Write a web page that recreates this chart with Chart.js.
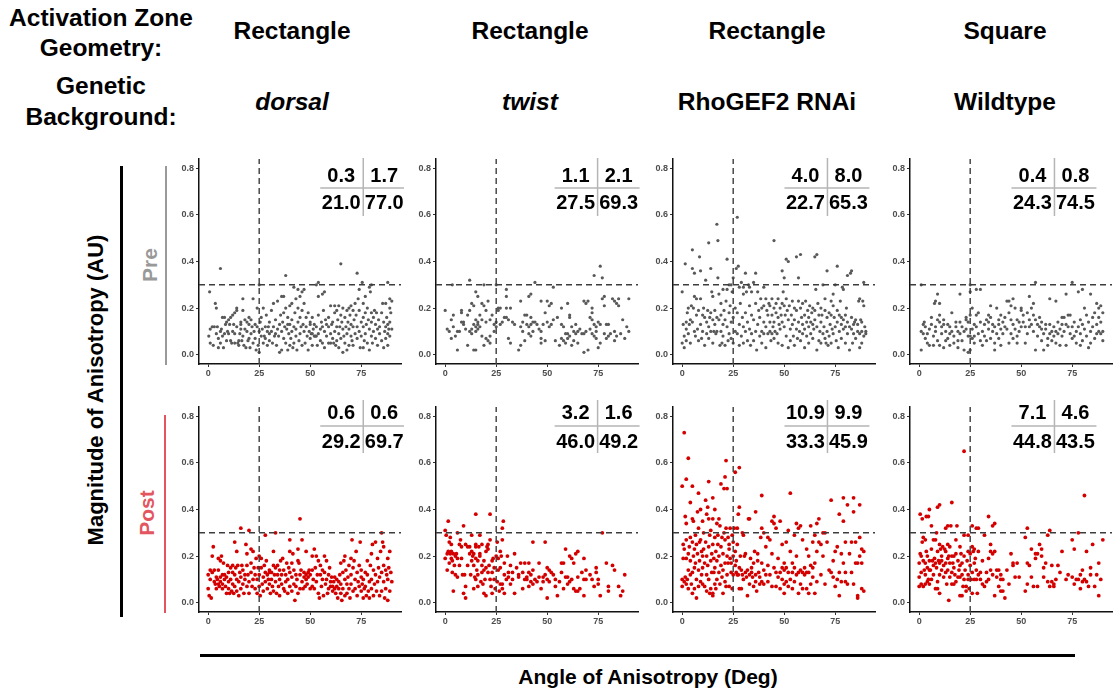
<!DOCTYPE html>
<html lang="en">
<head>
<meta charset="UTF-8">
<title>Anisotropy pre / post</title>
<script src="https://cdn.jsdelivr.net/npm/chart.js"></script>
<style>
body { margin:0; background:#fff; font-family:"Liberation Sans", Arial, sans-serif; }
#page { position:relative; width:1113px; height:692px; overflow:hidden; }
.lbl { position:absolute; font-weight:bold; color:#000; white-space:nowrap; transform:translate(-50%,-50%); }
.rot { transform:translate(-50%,-50%) rotate(-90deg); }
.bar { position:absolute; }
.panel { position:absolute; }
</style>
</head>
<body>
<div id="page"></div>

<script>
// column headers
const geometry   = ['Rectangle', 'Rectangle', 'Rectangle', 'Square'];
const background = ['dorsal', 'twist', 'RhoGEF2 RNAi', 'Wildtype'];
const italicBg   = [true, true, false, false];

// thresholds (dashed lines)
const angleCut = 25;
const magCut = 0.3;

// quadrant percentages: [top-left, top-right, bottom-left, bottom-right]
const preTables  = [[0.3,1.7,21.0,77.0],[1.1,2.1,27.5,69.3],[4.0,8.0,22.7,65.3],[0.4,0.8,24.3,74.5]];
const postTables = [[0.6,0.6,29.2,69.7],[3.2,1.6,46.0,49.2],[10.9,9.9,33.3,45.9],[7.1,4.6,44.8,43.5]];

// points [angle, magnitude]
const preDorsal = [
[0.7,.27],[0.3,.08],[1,.11],[1,.05],[2,.12],[2.5,.04],[3,.12],[3.5,.22],[4,.20],[4,.09],[4.5,.12],[5,.03],[5,.07],[6,.37],[6,.1],[6,.05],[6.5,.11],[7,.08],[7,.16],[7.5,.03],[8,.16],[8,.09],[8.5,.13],[9,.06],[9,.14],[9.5,.1],[10,.09],
[10,.15],[10.5,.13],[11,.16],[11,.06],[11.5,.05],[12,.17],[12,.1],[12.5,.13],[13,.18],[13,.05],[13,.09],[14,.19],[14,.2],[14,.12],[14.5,.05],[15,.04],[15,.06],[15.5,.09],[16,.13],[16,.14],[16,.11],[16.5,.06],[17,.24],[17,.19],[17,.08],[17.5,.04],[18,.11],[18,.15],[18.5,.03],[19,.14],[19,.1],[19.5,.06],[20,.16],[20,.13],[20,.07],[20.5,.03],
[21,.09],[21,.15],[21.5,.12],[22,.24],[22,.05],[22.5,.1],[23,.13],[23,.07],[23.5,.02],[24,.2],[24,.12],[24.5,.04],[25,.3],[25,.1],[25,.01],[25.5,.14],[26,.08],[26,.16],[26.5,.11],[27,.2],[27,.05],[27.5,.08],[28,.12],[28,.07],[28.5,.17],[29,.04],[29,.1],[29.5,.12],[30,.09],[30,.14],[30,.06],
[31,.1],[31,.19],[31.5,.05],[32,.12],[32,.22],[32.5,.08],[33,.09],[33,.15],[33.5,.04],[34,.23],[34,.11],[34.5,.08],[35,.13],[35,.01],[35.5,.17],[36,.25],[36,.1],[36,.02],[36.5,.14],[37,.25],[37,.18],[37,.07],[37.5,.12],[38,.34],[38,.2],[38,.05],[38.5,.11],[39,.16],[39,.13],[39,.02],[39.5,.09],[40,.21],[40,.13],[40,.04],
[40.5,.07],[41,.22],[41,.15],[41,.1],[41.5,.03],[42,.29],[42,.12],[42,.05],[42.5,.18],[43,.24],[43,.11],[43,.08],[43.5,.02],[44,.28],[44,.2],[44,.14],[44.5,.06],[45,.25],[45,.16],[45,.09],[45.5,.12],[46,.27],[46,.19],[46,.04],[46.5,.13],[47,.28],[47,.22],[47,.1],[47.5,.05],[48,.16],[48,.12],[48.5,.08],[49,.18],[49,.02],[49.5,.1],[50,.07],[50,.14],[50,.13],
[50.5,.09],[51,.09],[51,.16],[51,.04],[51.5,.11],[52,.08],[52,.13],[52.5,.08],[53,.3],[53,.12],[53,.08],[53.5,.04],[54,.31],[54,.25],[54,.17],[54,.09],[55,.11],[55,.06],[55.5,.14],[56,.26],[56,.12],[56,.05],[56.5,.19],[57,.27],[57,.1],[57,.03],[57.5,.15],[58,.08],[58,.13],[59,.05],[59,.12],[59,.16],[60,.21],[60,.09],[60,.05],
[60.5,.13],[61,.07],[61,.14],[61.5,.05],[62,.21],[62,.1],[62,.18],[62.5,.04],[63,.19],[63,.12],[63,.06],[63.5,.15],[64,.21],[64,.09],[64,.03],[64.5,.12],[65,.39],[65,.17],[65,.07],[65.5,.14],[66,.2],[66,.11],[66,.01],[66.5,.08],[67,.16],[67,.05],[67.5,.12],[68,.19],[68,.09],[68,.02],[68.5,.14],[69,.2],[69,.11],[69,.04],[69.5,.17],[70,.21],[70,.08],[70,.13],
[70.5,.06],[71,.19],[71,.12],[71,.04],[71.5,.15],[72,.22],[72,.09],[72.5,.17],[73,.35],[73,.12],[73,.07],[73.5,.24],[74,.28],[74,.19],[74,.1],[74.5,.03],[75,.14],[75,.08],[75.5,.31],[76,.22],[76,.16],[76,.12],[76,.03],[76.5,.06],[77,.25],[77,.18],[77,.09],[77.5,.13],[78,.2],[78,.05],[78.5,.15],[79,.29],[79,.11],[79,.02],[79.5,.27],[80,.3],[80,.18],[80,.08],[80,.14],
[80.5,.05],[81,.16],[81,.1],[81.5,.19],[82,.13],[82,.07],[82.5,.18],[83,.11],[83,.04],[83.5,.15],[84,.09],[84,.12],[85,.18],[85,.06],[85.5,.22],[86,.14],[86,.03],[86.5,.1],[87,.22],[87,.12],[87,.07],[87.5,.16],[88,.31],[88,.13],[88,.09],[88,.04],[88.5,.11],[89,.24],[89,.2],[89,.14],[89,.08],[89.5,.18],[90,.23],[90,.11]
];
const preTwist = [
[0,.19],[1,.11],[2,.1],[3,.15],[3,.07],[3.5,.3],[4,.17],[4,.12],[5,.08],[6,.1],[6,.02],[7,.1],[8,.18],[8,.19],[8,.14],[9,.13],[9,.14],[10,.11],[11,.04],[11,.17],
[12,.32],[12,.1],[12,.19],[13,.11],[13,.09],[13,.22],[14,.21],[14,.13],[14,.02],[15,.27],[15,.15],[15,.12],[15,.02],[15,.1],[16,.25],[16,.14],[16,.13],[16,.11],[17,.12],[17,.17],[18,.22],[18,.08],[18,.15],[19,.3],[19,.04],[19,.21],[20,.07],[20,.14],[20,.19],[21,.23],[21,.06],[22,.08],[22,.15],[22,.05],[23,.17],[24,.13],[24,.1],
[25,.3],[25,.14],[25,.12],[26,.2],[26,.19],[27,.13],[27,.2],[28,.14],[29,.16],[30,.25],[30,.28],[30,.2],[30,.16],[31,.15],[31,.07],[32,.2],[32,.05],[33,.14],[34,.13],
[36,.02],[37,.04],[37,.23],[37,.12],[38,.1],[38,.14],[39,.17],[39,.06],[40,.17],[40,.13],[41,.25],[41,.09],[41,.12],[42,.26],[42,.16],[42,.13],[42,.08],[43,.14],[43,.1],[44,.31],[44,.14],[45,.13],[46,.11],[47,.05],[47,.07],[47,.23],[47,.1],[48,.13],[49,.18],[49,.06],[50,.23],[50,.14],[51,.21],[51,.12],[52,.22],[52,.13],
[53,.29],[53,.15],[54,.06],[55,.16],[56,.04],[57,.2],[57,.13],[57,.07],[58,.12],[58,.06],[59,.09],[59,.05],[60,.22],[60,.09],[60,.07],[61,.16],[61,.17],[61,.08],[62,.12],[62,.04],[63,.06],[63,.1],[64,.13],[64,.09],[65,.1],[65,.05],[66,.11],[67,.09],
[68,.01],[68,.23],[68,.09],[69,.22],[69,.1],[70,.23],[70,.02],[71,.16],[71,.11],[72,.2],[72,.18],[72,.15],[72,.09],[73,.34],[73,.13],[73,.08],[74,.12],[74,.1],[74,.07],[75,.14],[75,.03],[76,.38],[76,.05],[76,.13],[77,.33],[77,.24],[78,.25],[78,.09],[78,.21],
[79,.13],[79,.07],[80,.13],[80,.08],[81,.09],[82,.24],[83,.23],[83,.1],[83,.06],[84,.22],[84,.08],[85,.21],[85,.24],[86,.09],[87,.15],[88,.07],[89,.12],[90,.1],[90,.24]
];
const preRho = [
[0,.27],[0,.05],[0.5,.13],[1,.08],[1,.03],[1.5,.39],[2,.14],[2,.11],[2,.06],[2.5,.18],[3,.09],[3,.2],[3.5,.13],[4,.05],[4,.15],[4.5,.21],[5,.14],
[5,.37],[5,.45],[5.5,.2],[6,.35],[6,.25],[6,.1],[6.5,.08],[7,.24],[7,.17],[7.5,.11],[8,.06],[8,.19],[8.5,.42],[9,.13],[9,.24],[9,.36],[9.5,.07],[10,.17],[10,.1],
[10.5,.2],[11,.16],[11,.04],[11.5,.32],[12,.14],[12,.09],[12.5,.19],[13,.48],[13,.12],[13,.07],[13.5,.16],[14,.37],[14,.1],[14,.18],[14.5,.27],[15,.15],[15,.05],[15,.25],
[15.5,.1],[16,.19],[16,.13],[16.5,.09],[17,.56],[17,.16],[17,.1],[17.5,.33],[17.5,.49],[18,.15],[18,.26],[18.5,.04],[19,.22],[19,.17],[19,.1],[19.5,.05],[20,.13],[20,.28],[20,.08],
[20.5,.19],[21,.15],[21,.04],[21.5,.23],[22,.41],[22,.28],[22,.12],[22.5,.06],[23,.18],[23,.3],[23,.09],[23.5,.21],[24,.3],[24,.14],[24,.07],[24.5,.27],[25,.16],[25,.33],[25,.05],
[26,.1],[26,.2],[26.5,.37],[27,.59],[27,.18],[27,.09],[27.5,.38],[28,.29],[28,.13],[28,.04],[28.5,.22],[29,.31],[29,.08],[29.5,.16],[30,.29],[30,.12],[30,.26],[30,.05],
[31,.35],[31,.18],[31,.1],[31.5,.27],[32,.14],[32,.06],[32.5,.3],[33,.21],[33,.29],[33,.11],[33.5,.04],[34,.17],[34,.27],[34,.09],[35,.15],[35,.31],[35,.06],
[36,.35],[36,.22],[36,.1],[36.5,.02],[37,.13],[37,.27],[37.5,.19],[38,.08],[38,.16],[38.5,.24],[39,.1],[39,.2],[39,.05],[40,.14],[40,.29],[40,.21],[40,.09],
[41,.24],[41,.12],[41,.03],[41.5,.19],[42,.17],[42,.09],[42.5,.22],[43,.14],[43,.21],[43,.1],[43.5,.06],[44,.24],[44,.17],[44,.09],[44.5,.12],[45,.49],[45,.2],[45,.14],[45,.07],
[45.5,.1],[46,.18],[46,.22],[46.5,.09],[47,.16],[47,.24],[47,.05],[47.5,.13],[48,.2],[48,.11],[48.5,.17],[49,.36],[49,.22],[49,.14],[49,.04],[49.5,.27],[50,.33],[50,.21],[50,.12],
[50.5,.17],[51,.41],[51,.24],[51,.08],[51.5,.19],[52,.4],[52,.15],[52,.03],[52.5,.21],[53,.11],[53,.06],[53.5,.17],[54,.13],[54,.23],[54.5,.08],[55,.2],[55,.15],[55,.04],
[56,.42],[56,.11],[56,.19],[56.5,.07],[57,.33],[57,.23],[57,.14],[57.5,.1],[58,.43],[58,.2],[58,.06],[58.5,.16],[59,.13],[59,.22],[59,.09],[60,.17],[60,.11],[60,.03],
[60.5,.23],[61,.14],[61,.08],[61.5,.19],[62,.12],[62,.16],[62,.05],[62.5,.21],[63,.14],[63,.09],[63.5,.18],[64,.13],[64,.2],[64,.07],[64.5,.11],[65,.42],[65,.15],[65,.19],
[65.5,.28],[66,.43],[66,.12],[66,.02],[66.5,.22],[67,.17],[67,.06],[67.5,.1],[68,.2],[68,.14],[68,.05],[68.5,.17],[69,.3],[69,.09],[69.5,.12],[70,.19],[70,.07],[70,.24],
[70.5,.05],[71,.36],[71,.16],[71,.1],[71.5,.04],[72,.18],[72,.08],[72.5,.13],[73,.23],[73,.17],[73,.05],[73.5,.11],[74,.26],[74,.21],[74,.09],[74.5,.16],[75,.3],[75,.12],
[75.5,.06],[76,.38],[76,.19],[76,.14],[76.5,.03],[77,.17],[77,.1],[77.5,.23],[78,.13],[78,.16],[78,.07],[78.5,.29],[79,.28],[79,.15],[79,.11],[80,.17],[80,.05],[80,.12],
[80.5,.2],[81,.34],[81,.14],[81,.09],[82,.12],[82,.02],[82.5,.35],[83,.36],[83,.16],[83,.11],[83.5,.05],[84,.13],[84,.09],[84.5,.14],[85,.15],[85,.07],
[86,.1],[86,.13],[86.5,.23],[87,.24],[87,.09],[87,.03],[87.5,.15],[88,.14],[88,.1],[88,.05],[88.5,.23],[89,.31],[89,.21],[89,.08],[89.5,.12],[90,.09],[90,.1]
];
const preWildtype = [
[1,.3],[1,.1],[1,.02],[2,.09],[2,.13],[2.5,.14],[3,.07],[3,.12],[4,.05],[4,.09],[5,.11],[5,.04],[6,.13],[6,.16],[7,.08],[7,.04],[7.5,.22],[8,.23],[8,.12],[8,.1],[9,.26],[9,.15],[9,.06],[10,.22],[10,.17],[10,.14],[10,.04],
[11,.12],[11,.09],[12,.15],[12,.13],[12,.03],[13,.1],[13,.06],[14,.13],[14,.07],[15,.12],[15,.09],[15,.04],[16,.18],[16,.1],[17,.08],[17,.05],[18,.12],[18,.14],[19,.1],[19,.06],[19,.03],[20,.26],[20,.09],[20,.14],
[21,.12],[21,.06],[22,.1],[22,.02],[23,.15],[23,.16],[23,.11],[24,.14],[24,.08],[24,.01],[25,.3],[25,.27],[25,.17],[25,.08],[25,.02],[26,.2],[26,.07],[26,.11],[27,.13],[27,.05],[27,.08],[28,.28],[28,.17],[28,.12],[29,.18],[29,.09],[30,.28],[30,.14],[30,.06],
[31,.1],[31,.04],[32,.13],[32,.08],[33,.15],[33,.06],[34,.17],[34,.11],[34,.14],[35,.21],[35,.16],[35,.07],[36,.13],[36,.1],[37,.02],[37,.05],[37,.12],[38,.2],[38,.09],[39,.13],[39,.15],[39,.07],[40,.17],[40,.11],[40,.04],
[41,.14],[41,.09],[42,.12],[42,.16],[43,.23],[43,.11],[44,.23],[44,.18],[44,.05],[45,.21],[45,.15],[45,.09],[46,.24],[46,.13],[46,.07],[47,.2],[47,.11],[48,.15],[48,.08],[48,.05],[49,.14],[49,.1],[50,.2],[50,.12],[50,.19],
[51,.17],[51,.14],[52,.12],[52,.05],[53,.18],[53,.09],[54,.25],[54,.15],[54,.12],[55,.2],[55,.13],[56,.22],[56,.17],[56,.1],[57,.31],[57,.15],[57,.02],[58,.13],[58,.08],[59,.12],[59,.16],[60,.14],[60,.06],[60,.11],
[61,.09],[61,.02],[62,.13],[62,.11],[63,.07],[63,.04],[64,.09],[64,.13],[64,.24],[65,.1],[65,.06],[66,.08],[66,.12],[67,.23],[67,.1],[67,.05],[68,.14],[68,.09],[69,.11],[69,.04],[70,.16],[70,.13],[70,.08],
[71,.16],[71,.1],[72,.26],[72,.13],[72,.04],[73,.17],[73,.12],[74,.09],[74,.17],[75,.31],[75,.12],[75,.07],[76,.14],[76,.08],[77,.1],[77,.05],[78,.27],[78,.12],[79,.15],[79,.09],[79,.04],[80,.28],[80,.13],[80,.06],
[81,.2],[81,.11],[82,.17],[82,.08],[83,.14],[83,.03],[84,.26],[84,.1],[84,.05],[85,.16],[85,.12],[86,.18],[86,.07],[87,.22],[87,.13],[87,.09],[88,.2],[88,.1],[88,.16],[89,.09],[89,.14],[89,.21],[90,.1],[90,.06],[90,.18]
];
const postDorsal = [
[0,.12],[0,.06],[0.5,.03],[1,.14],[1,.1],[1.5,.02],[2,.2],[2,.13],[2.5,.24],[3,.09],[3,.14],[3.5,.08],[4,.11],[4,.06],[4.5,.1],[5,.08],[5,.19],[5,.14],
[5.5,.07],[6,.18],[6,.11],[6,.09],[6.5,.2],[7,.12],[7,.08],[7,.06],[7.5,.17],[8,.1],[8,.12],[8.5,.07],[9,.04],[9,.11],[9.5,.16],[10,.13],[10,.09],[10,.06],
[10.5,.04],[11,.15],[11,.1],[11.5,.05],[12,.13],[12,.16],[12,.08],[12.5,.04],[13,.26],[13,.12],[13,.07],[13.5,.15],[14,.22],[14,.1],[14,.05],[14.5,.16],[15,.09],[15,.03],
[15.5,.13],[16,.32],[16,.11],[16,.06],[16.5,.16],[17,.08],[17,.14],[17.5,.04],[18,.1],[18,.12],[18.5,.25],[19,.16],[19,.07],[19,.21],[19.5,.12],[20,.31],[20,.09],[20,.04],
[21,.23],[21,.17],[21,.13],[21.5,.07],[22,.22],[22,.1],[22.5,.15],[23,.06],[23,.12],[23.5,.19],[24,.1],[24,.04],[24.5,.15],[25,.2],[25,.12],[25,.07],
[25.5,.03],[26,.19],[26,.15],[26.5,.08],[27,.11],[27,.05],[27.5,.16],[28,.29],[28,.13],[28,.09],[28.5,.18],[29,.12],[29,.06],[29.5,.1],[30,.14],[30,.08],[30,.13],
[30.5,.04],[31,.13],[31,.1],[31.5,.07],[32,.22],[32,.16],[32,.05],[32.5,.12],[33,.3],[33,.15],[33,.09],[33.5,.04],[34,.12],[34,.16],[34.5,.07],[35,.1],[35,.14],[35,.03],
[35.5,.18],[36,.08],[36,.12],[36.5,.19],[37,.06],[37,.14],[37.5,.05],[38,.09],[38,.12],[38.5,.17],[39,.04],[39,.1],[39.5,.15],[40,.27],[40,.22],[40,.07],[40,.13],
[41,.17],[41,.11],[41,.05],[41.5,.21],[42,.14],[42,.08],[42.5,.01],[43,.12],[43,.07],[43.5,.1],[44,.23],[44,.18],[44,.04],[44.5,.17],[45,.36],[45,.12],[45,.06],
[45.5,.14],[46,.27],[46,.09],[46.5,.06],[47,.13],[47,.11],[47.5,.07],[48,.22],[48,.12],[48,.1],[48.5,.08],[49,.13],[49,.11],[49.5,.14],[50,.06],[50,.12],
[51,.2],[51,.14],[51,.07],[51.5,.1],[52,.23],[52,.06],[52.5,.15],[53,.2],[53,.09],[53.5,.12],[54,.18],[54,.04],[54.5,.02],[55,.12],[55,.16],
[55.5,.07],[56,.14],[56,.1],[56.5,.03],[57,.2],[57,.13],[57.5,.08],[58,.18],[58,.1],[58.5,.04],[59,.06],[59,.12],[59.5,.15],[60,.09],[60,.07],
[60.5,.11],[61,.07],[61,.05],[61.5,.09],[62,.06],[62,.11],[62.5,.04],[63,.07],[63,.1],[63.5,.02],[64,.09],[64,.06],[64.5,.12],[65,.04],[65,.17],[65,.08],
[65.5,.01],[66,.13],[66,.06],[66.5,.18],[67,.2],[67,.1],[67,.03],[67.5,.14],[68,.04],[68,.08],[68.5,.11],[69,.16],[69,.06],[69.5,.02],[70,.12],[70,.19],[70,.08],
[70.5,.27],[71,.15],[71,.05],[71.5,.18],[72,.1],[72,.06],[72.5,.22],[73,.13],[73,.03],[73.5,.09],[74,.16],[74,.07],[74.5,.26],[75,.11],[75,.05],[75,.14],
[75.5,.08],[76,.1],[76,.02],[76.5,.06],[77,.13],[77,.07],[77.5,.03],[78,.12],[78,.18],[78.5,.05],[79,.09],[79,.02],[79.5,.16],[80,.21],[80,.1],[80,.06],
[80.5,.25],[81,.14],[81,.03],[81.5,.08],[82,.26],[82,.12],[82.5,.05],[83,.19],[83,.09],[83.5,.15],[84,.03],[84,.11],[84.5,.22],[85,.3],[85,.13],[85,.05],
[85.5,.26],[86,.24],[86,.16],[86,.09],[86.5,.02],[87,.14],[87,.06],[87.5,.12],[88,.01],[88,.19],[88,.1],[88.5,.15],[89,.05],[89,.22],[89.5,.13],[90,.09]
];
const postTwist = [
[0,.31],[0,.19],[0.5,.29],[1,.14],[1,.21],[1.5,.35],[1.5,.22],[2,.17],[2,.26],[2.5,.28],[2.5,.21],[3,.19],[3,.25],[3,.22],[3.5,.13],[3.5,.18],[4,.21],[4,.05],[4.5,.16],[5,.12],[5,.2],
[5.5,.21],[6,.3],[6,.19],[6,.11],[7,.25],[7,.16],[7.5,.27],[8,.19],[8,.24],[8.5,.12],[9,.33],[9,.04],[9.5,.12],[10,.02],[10,.25],[10,.07],
[11,.24],[11,.16],[12,.24],[12,.21],[12.5,.12],[13,.29],[13,.22],[13,.18],[13.5,.2],[14,.16],[14,.21],[14,.06],[14.5,.11],[15,.24],[15,.19],[15,.38],[15,.1],[15,.25],
[15.5,.14],[16,.12],[16,.18],[16,.07],[16.5,.24],[17,.29],[17,.2],[17,.21],[17.5,.09],[18,.13],[18,.16],[18,.25],[18.5,.08],[19,.14],[19,.18],[19,.04],[19.5,.1],[20,.15],[20,.22],[20,.03],
[20.5,.24],[21,.13],[21,.25],[21,.23],[21.5,.16],[22,.38],[22,.27],[22,.1],[22.5,.07],[23,.18],[23,.13],[23,.04],[23.5,.19],[24,.1],[24,.15],[24.5,.06],[25,.2],
[25.5,.26],[25.5,.09],[26,.14],[26,.19],[26.5,.05],[27,.22],[27,.15],[27,.08],[27.5,.2],[28,.32],[28,.27],[28,.08],[28,.06],[28.5,.35],[29,.17],[29,.12],[29,.04],[30,.1],
[30.5,.2],[31,.13],[31,.11],[32,.16],[32,.08],[33,.13],[33,.1],[34,.21],[34,.04],[35,.15],[36,.11],[36,.12],[37,.17],[38,.06],[38,.13],[39,.1],[39,.17],[40,.11],[40,.1],
[41,.17],[41,.13],[41,.07],[42,.09],[42,.12],[43,.26],[43,.14],[43,.08],[44,.1],[45,.09],[46,.17],[46,.11],[47,.06],[48,.09],[48,.11],[49,.26],[49,.12],[50,.15],[50,.02],[50,.1],
[51,.14],[51,.09],[52,.13],[53,.12],[54,.07],[54,.1],[55,.03],[56,.09],[57,.17],[57,.13],[58,.17],[58,.06],[59,.23],[59,.11],[60,.11],[60,.08],
[61,.2],[61,.09],[62,.19],[62,.1],[63,.17],[63,.06],[64,.05],[64,.21],[65,.22],[65,.05],[65,.11],[66,.06],[67,.13],[68,.1],[68,.19],[68,.03],[69,.14],[69,.1],
[71,.12],[72,.1],[73,.07],[74,.15],[74,.13],[75,.1],[75,.08],[76,.03],[77,.3],[79,.17],[80,.07],[80,.05],[82,.16],[83,.14],[85,.07],[86,.03],[87,.05],[88,.12]
];
const postRho = [
[0,.07],[0,.1],[0,.5],[0.5,.25],[0.5,.19],[1,.73],[1,.23],[1,.09],[1.5,.37],[1.5,.11],[2,.53],[2,.34],[2,.27],[2,.19],[2,.08],[2.5,.1],[3,.62],[3,.21],[3,.14],[3,.06],[3.5,.24],[4,.43],[4,.28],[4,.18],[4,.12],[4.5,.08],[5,.5],[5,.36],[5,.26],[5,.13],[5,.04],
[5.5,.35],[5.5,.2],[6,.23],[6,.15],[6,.06],[6.5,.29],[6.5,.17],[7,.25],[7,.1],[7,.02],[7.5,.39],[7.5,.21],[8,.47],[8,.32],[8,.14],[8,.07],[8.5,.26],[8.5,.18],[9,.4],[9,.27],[9,.09],[9.5,.22],[9.5,.12],[10,.35],[10,.2],[10,.15],[10,.08],
[10.5,.3],[10.5,.23],[11,.17],[11,.07],[11.5,.44],[11.5,.26],[12,.38],[12,.2],[12,.12],[12,.05],[12.5,.41],[12.5,.16],[13,.52],[13,.36],[13,.24],[13,.1],[13.5,.29],[13.5,.04],[14,.31],[14,.18],[14,.06],[14.5,.21],[14.5,.13],[15,.45],[15,.36],[15,.25],[15,.04],[15,.03],
[15.5,.19],[15.5,.13],[16,.4],[16,.28],[16,.15],[16,.08],[16.5,.22],[16.5,.06],[17,.34],[17,.18],[17,.1],[17.5,.25],[17.5,.29],[18,.36],[18,.2],[18,.13],[18.5,.33],[18.5,.08],[19,.51],[19,.24],[19,.16],[19.5,.28],[19.5,.11],[20,.21],[20,.14],[20,.04],
[20.5,.49],[20.5,.3],[21,.54],[21,.27],[21,.17],[21,.09],[21.5,.61],[21.5,.32],[21.5,.07],[22,.49],[22,.2],[22,.12],[22.5,.28],[22.5,.17],[23,.25],[23,.23],[23,.07],[23.5,.32],[23.5,.19],[24,.17],[24,.13],[24.5,.29],[24.5,.06],[25,.26],[25,.12],[25,.2],
[25.5,.32],[26,.56],[26,.16],[26,.22],[26.5,.18],[26.5,.13],[27,.32],[27,.25],[27,.12],[27.5,.38],[27.5,.12],[28,.58],[28,.41],[28,.15],[28,.06],[28.5,.2],[29,.14],[29,.06],[29.5,.3],[29.5,.12],[30,.29],[30,.1],
[30.5,.2],[31,.13],[31,.21],[31.5,.11],[32,.03],[32,.14],[32.5,.36],[33,.36],[33,.12],[33,.08],[33.5,.19],[34,.13],[34,.15],[34.5,.11],[35,.07],[35,.17],[35.5,.22],[36,.39],[36,.12],[36,.09],[36.5,.05],[37,.21],[37,.18],[37.5,.13],[38,.11],[38,.08],[38.5,.28],[39,.46],[39,.32],[39,.17],[39,.09],[40,.14],[40,.3],[40,.08],
[41,.24],[41,.12],[42,.28],[42,.16],[42,.09],[43,.27],[43,.12],[44,.35],[44,.21],[44,.07],[45,.37],[45,.34],[45,.15],[46,.32],[46,.13],[46,.07],[47,.19],[47,.11],[48,.35],[48,.13],[48,.06],[49,.15],[49,.1],[49,.25],[50,.17],[50,.14],[50,.08],[50,.04],
[51,.26],[51,.15],[51,.09],[52,.31],[52,.13],[52,.07],[53,.47],[53,.22],[53,.1],[54,.13],[54,.17],[54,.06],[55,.29],[55,.15],[55,.09],[56,.34],[56,.2],[56,.12],[57,.04],[57,.13],[57,.32],[58,.33],[58,.14],[58,.08],[59,.27],[59,.06],[59,.13],[60,.15],[60,.12],
[61,.13],[61,.06],[61,.23],[62,.2],[62,.13],[62,.04],[63,.33],[63,.16],[63,.08],[64,.26],[64,.15],[64,.11],[65,.29],[65,.17],[65,.04],[66,.22],[66,.34],[66,.09],[67,.26],[67,.36],[68,.25],[68,.12],[69,.3],[69,.2],[70,.3],[70,.08],
[71,.26],[72,.14],[73,.44],[73,.13],[74,.18],[74,.11],[75,.22],[75,.07],[76,.24],[76,.1],[77,.38],[77,.03],[77,.13],[78,.21],[78,.09],[79,.45],[79,.35],[79,.17],[80,.26],[80,.13],[80,.09],
[81,.42],[81,.08],[82,.21],[83,.26],[83,.13],[84,.45],[84,.39],[84,.08],[85,.26],[85,.17],[86,.17],[86,.03],[86,.02],[87,.42],[87,.28],[87,.2],[88,.23],[88,.17],[88,.06],[89,.05],[89,.22]
];
const postWildtype = [
[0,.17],[0,.11],[0,.07],[0.5,.21],[0.5,.38],[1,.2],[1,.13],[1,.08],[1.5,.26],[1.5,.36],[2,.28],[2,.18],[2,.07],[2.5,.14],[3,.27],[3,.17],[3,.12],[3,.08],[3.5,.22],[3.5,.37],[4,.2],[4,.15],[4,.09],[4.5,.37],[4.5,.1],[5,.4],[5,.18],[5,.14],[5,.08],
[5.5,.14],[6,.33],[6,.23],[6,.1],[6.5,.18],[7,.27],[7,.16],[7,.12],[7.5,.19],[8,.27],[8,.17],[8,.06],[8.5,.3],[8.5,.15],[9,.41],[9,.22],[9,.09],[9,.06],[9.5,.18],[10,.42],[10,.25],[10,.12],[10,.04],[10,.17],
[10.5,.23],[11,.2],[11,.14],[11,.18],[11.5,.24],[12,.16],[12,.11],[12.5,.23],[13,.32],[13,.22],[13,.17],[13,.13],[13.5,.08],[14,.33],[14,.25],[14,.19],[14,.14],[14.5,.01],[14.5,.2],[15,.24],[15,.11],[15,.17],
[15.5,.33],[16,.43],[16,.2],[16,.13],[16,.08],[16.5,.17],[17,.2],[17,.15],[17,.08],[17.5,.12],[18,.27],[18,.21],[18,.09],[18.5,.33],[19,.18],[19,.11],[19.5,.14],[20,.24],[20,.16],[20,.03],[20,.11],
[20.5,.21],[21,.17],[21,.12],[21,.03],[21.5,.07],[22,.65],[22,.29],[22,.2],[22,.1],[22.5,.14],[23,.07],[23,.05],[23.5,.18],[24,.29],[24,.22],[24,.12],[24,.1],[24.5,.06],[25,.21],[25,.16],
[25.5,.1],[26,.24],[26,.33],[26,.13],[26,.04],[26.5,.22],[27,.17],[27,.1],[27,.23],[27.5,.19],[28,.32],[28,.14],[28,.1],[28.5,.04],[29,.22],[29,.12],[29,.32],[30,.13],[30,.1],
[31,.18],[31,.08],[32,.29],[32,.07],[33,.13],[33,.09],[34,.37],[34,.19],[34,.1],[35,.25],[35,.22],[35,.14],[36,.33],[36,.21],[36,.12],[37,.34],[37,.22],[37,.03],[38,.14],[38,.11],[39,.14],[39,.07],[40,.05],[40,.1],[40,.12],
[41,.05],[41,.1],[42,.02],[43,.14],[44,.08],[45,.21],[46,.17],[46,.16],[47,.11],[48,.17],[49,.11],[52,.28],[52,.05],[53,.32],[53,.17],[53,.08],[54,.16],[55,.23],[55,.11],
[56,.07],[57,.21],[57,.19],[58,.07],[58,.21],[59,.25],[60,.23],[60,.2],[61,.15],[61,.11],[62,.17],[63,.09],[63,.29],[64,.31],[64,.07],[65,.16],[65,.09],
[66,.07],[66,.08],[67,.1],[68,.16],[69,.13],[70,.22],[72,.1],[73,.12],[75,.27],[75,.11],[76,.23],[76,.08],[77,.1],[78,.3],[78,.1],
[79,.06],[79,.12],[80,.09],[80,.14],[81,.46],[81,.1],[82,.22],[82,.09],[83,.07],[84,.12],[84,.15],[85,.25],[86,.07],[87,.12],[88,.17],[88,.03],[89,.1],[90,.27]
];

const prePoints  = [preDorsal, preTwist, preRho, preWildtype];
const postPoints = [postDorsal, postTwist, postRho, postWildtype];

// ---- layout (pixels) ----
const page = document.getElementById('page');
const axisLeft = [199, 436, 673, 910];     // x of each panel's y axis
const areaTop  = [159, 407];               // top of plot area, per row
const headCenter = [292, 530, 767, 1005];
const divider = [76, 74.7, 71.2, 66.3];     // table divider, in angle units
const padTop = 14, yAxisW = 34, xAxisH = 20, areaW = 202, areaH = 205;
const xMin = -4.5, xMax = 94.5, yMin = -0.04, yMax = 0.84;

function label(text, x, y, size, extra) {
  var d = document.createElement('div');
  d.className = 'lbl' + (extra && extra.rot ? ' rot' : '');
  d.textContent = text;
  d.style.left = x + 'px';
  d.style.top = y + 'px';
  d.style.fontSize = size + 'px';
  if (extra && extra.color) d.style.color = extra.color;
  if (extra && extra.italic) d.style.fontStyle = 'italic';
  page.appendChild(d);
}
function bar(x, y, w, h, color) {
  var d = document.createElement('div');
  d.className = 'bar';
  d.style.left = x + 'px'; d.style.top = y + 'px';
  d.style.width = w + 'px'; d.style.height = h + 'px';
  d.style.background = color;
  page.appendChild(d);
}

// headers
label('Activation Zone', 101, 18, 24.5);
label('Geometry:', 101, 48, 24.5);
label('Genetic', 101, 86, 24.5);
label('Background:', 101, 117, 24.5);
for (var c = 0; c < 4; c++) {
  label(geometry[c], headCenter[c], 31, 24.5);
  label(background[c], headCenter[c], 102, 24.5, {italic: italicBg[c]});
}

// side and bottom titles
bar(120, 166, 2.5, 451, '#000');
label('Magnitude of Anisotropy (AU)', 96, 390, 22, {rot: true});
bar(165, 166, 2, 199, '#999');
label('Pre', 150, 265, 21, {rot: true, color: '#999'});
bar(164, 415, 2, 198, '#e35660');
label('Post', 147, 513, 21, {rot: true, color: '#e35660'});
bar(200, 654, 875, 2.5, '#000');
label('Angle of Anisotropy (Deg)', 648, 677, 21);

// quadrant table drawn over each panel
function tablePlugin(vals, divX, row) {
  var off = row === 0 ? {r1: 17, hl: 29, r2: 44, v0: -1, v1: 57}
                      : {r1: 6, hl: 19, r2: 35, v0: -7, v1: 46};
  return {
    id: 'quadTable',
    afterDraw: function(chart) {
      var ctx = chart.ctx;
      var dx = chart.scales.x.getPixelForValue(divX);
      var top = chart.chartArea.top;
      ctx.save();
      ctx.strokeStyle = '#b5b5b5';
      ctx.lineWidth = 1.5;
      ctx.beginPath();
      ctx.moveTo(dx, top + off.v0); ctx.lineTo(dx, top + off.v1);
      ctx.moveTo(dx - 43, top + off.hl); ctx.lineTo(dx + 42, top + off.hl);
      ctx.stroke();
      ctx.fillStyle = '#000';
      ctx.font = 'bold 20px "Liberation Sans", Arial, sans-serif';
      ctx.textAlign = 'center';
      ctx.textBaseline = 'middle';
      ctx.fillText(vals[0].toFixed(1), dx - 22, top + off.r1);
      ctx.fillText(vals[1].toFixed(1), dx + 21, top + off.r1);
      ctx.fillText(vals[2].toFixed(1), dx - 22, top + off.r2);
      ctx.fillText(vals[3].toFixed(1), dx + 21, top + off.r2);
      ctx.restore();
    }
  };
}

function panel(row, col, pts, vals) {
  var box = document.createElement('div');
  box.className = 'panel';
  box.style.left = (axisLeft[col] - yAxisW) + 'px';
  box.style.top = (areaTop[row] - padTop) + 'px';
  var cv = document.createElement('canvas');
  cv.width = yAxisW + areaW + 3;
  cv.height = padTop + areaH + xAxisH;
  box.appendChild(cv);
  page.appendChild(box);

  var isPre = row === 0;
  var dash = {borderColor: '#3d3d3d', borderWidth: 1.4, borderDash: [6, 4], pointRadius: 0, showLine: true, fill: false};
  new Chart(cv, {
    type: 'scatter',
    data: {
      datasets: [
        Object.assign({data: [{x: angleCut, y: yMin}, {x: angleCut, y: yMax}]}, dash),
        Object.assign({data: [{x: xMin, y: magCut}, {x: xMax, y: magCut}]}, dash),
        {
          data: pts.map(function(p) { return {x: p[0], y: p[1]}; }),
          backgroundColor: isPre ? '#595959' : '#d40000',
          borderWidth: 0,
          pointRadius: isPre ? 1.6 : 1.9
        }
      ]
    },
    options: {
      responsive: false,
      animation: false,
      events: [],
      layout: {autoPadding: false, padding: {top: padTop, right: 3, left: 0, bottom: 0}},
      plugins: {legend: {display: false}, tooltip: {enabled: false}},
      scales: {
        x: {
          type: 'linear', min: xMin, max: xMax,
          afterFit: function(s) { s.height = xAxisH; },
          border: {display: true, color: '#111', width: 1.5},
          grid: {drawOnChartArea: false, drawTicks: true, tickLength: 3, tickColor: '#333'},
          ticks: {stepSize: 25, includeBounds: false, padding: 1, color: '#4d4d4d',
                  font: {size: 9, weight: 'bold', family: '"Liberation Sans", Arial'}}
        },
        y: {
          type: 'linear', min: yMin, max: yMax,
          afterFit: function(s) { s.width = yAxisW; },
          border: {display: true, color: '#111', width: 1.5},
          grid: {drawOnChartArea: false, drawTicks: true, tickLength: 3, tickColor: '#333'},
          ticks: {stepSize: 0.2, includeBounds: false, padding: 2, color: '#4d4d4d',
                  font: {size: 9, weight: 'bold', family: '"Liberation Sans", Arial'},
                  callback: function(v) { return v.toFixed(1); }}
        }
      }
    },
    plugins: [tablePlugin(vals, divider[col], row)]
  });
}

for (var i = 0; i < 4; i++) {
  panel(0, i, prePoints[i], preTables[i]);
  panel(1, i, postPoints[i], postTables[i]);
}
</script>
</body>
</html>
